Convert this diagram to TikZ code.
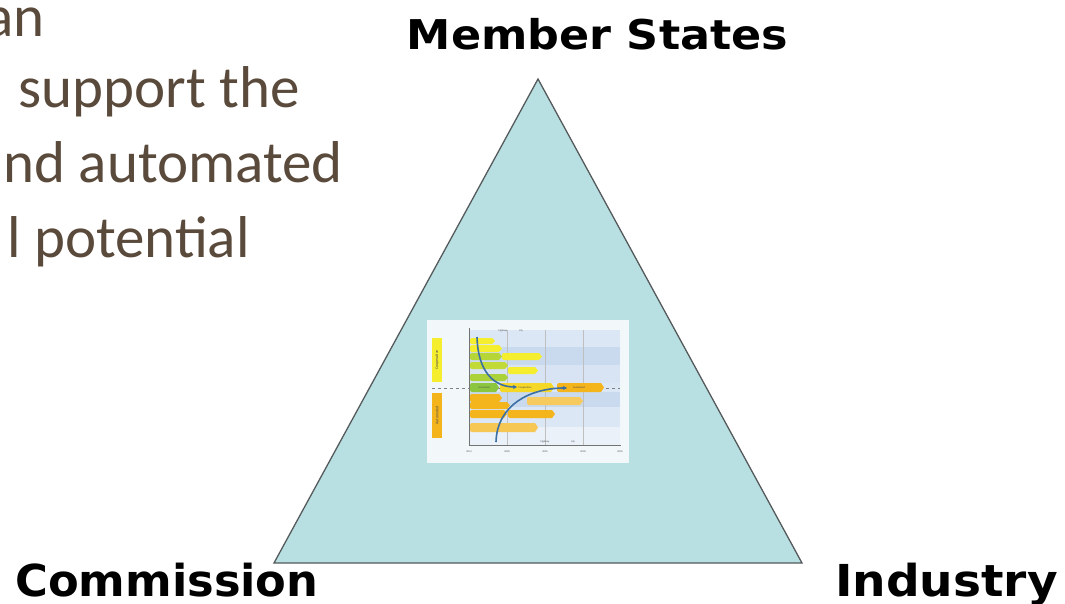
\documentclass[tikz,border=0pt]{standalone}
\usepackage{fontspec}
\setmainfont{Carlito}
\newfontfamily\lblfont{DejaVu Sans}
\usetikzlibrary{arrows.meta}
\definecolor{tritext}{HTML}{594A3B}
\definecolor{trifill}{HTML}{B8DFE1}
\definecolor{triline}{HTML}{555A5C}
\definecolor{cyel}{HTML}{F5EE2E}
\definecolor{corg}{HTML}{F4B41B}
\definecolor{cgrn}{HTML}{8CC63F}
\definecolor{cblue}{HTML}{3B6FA6}
\definecolor{bandA}{HTML}{DCE7F5}
\definecolor{bandB}{HTML}{C9DAEF}
\definecolor{frameC}{HTML}{F2F7FA}
\tikzset{
  bodytext/.style={text=tritext, inner sep=0pt, font=\fontsize{59}{70}\selectfont},
  roletext/.style={text=black, inner sep=0pt, font=\lblfont\bfseries\fontsize{44}{52}\selectfont},
  tinytext/.style={inner sep=0pt, font=\fontsize{2.6}{3}\selectfont, text=black!70},
  flow/.style={draw=cblue, line width=1.6pt, -{Stealth[length=4pt,width=4pt]}},
}
\newcommand\chartbar[5]{%
  \fill[#5] ({#2-3},#3) [rounded corners=2pt] -- (#1,#3) -- (#1,#4) [sharp corners] -- ({#2-3},#4) -- (#2,{(#3+#4)/2}) -- cycle;}
\begin{document}
\begin{tikzpicture}[x=1pt,y=-1pt]
\useasboundingbox (0,0) rectangle (1065,604);
\fill[white] (0,0) rectangle (1065,604);

% body text (cut off at left)
\node[bodytext, anchor=base east] (l1) at (45,37) {an};
\node[bodytext, anchor=base east] (l2) at (300,108) {support the};
\node[bodytext, anchor=base east] (l3) at (343,183) {nd automated};
\node[bodytext, anchor=base east] (l4) at (250,257) {l potential};

% triangle
\coordinate (apex) at (538,79);
\coordinate (bl) at (274,563);
\coordinate (br) at (802,563);
\filldraw[fill=trifill, draw=triline, line width=1.3pt, line join=miter] (apex) -- (bl) -- (br) -- cycle;

% role labels
\node[roletext, anchor=base] (ms) at (597.5,50) {\scalebox{1.085}[1]{\fontsize{41}{49}\selectfont Member States}};
\node[roletext, anchor=base west] (com) at (15,596) {\scalebox{1.017}[1]{Commission}};
\node[roletext, anchor=base east] (ind) at (1058,596) {\scalebox{1.07}[1]{Industry}};

% embedded chart
\fill[frameC] (427,320) rectangle (629,463);
\fill[bandA] (469,330) rectangle (620,347);
\fill[bandB] (469,347) rectangle (620,365);
\fill[bandA!80!bandB] (469,365) rectangle (620,383);
\fill[bandA] (469,383) rectangle (620,392);
\fill[bandB] (469,392) rectangle (620,407);
\fill[bandA] (469,407) rectangle (620,427);
\fill[bandA!60!white] (469,427) rectangle (620,445);
\foreach \gx in {507,545,583} \draw[black!25, line width=0.3pt] (\gx,330) -- (\gx,445);
\draw[black!55, line width=0.6pt] (469,328) -- (469,445) -- (621,445);
\draw[black!50, dashed, line width=0.5pt] (432,388) -- (620,388);
% side tags
\fill[cyel] (432,338) rectangle (442,382);
\fill[corg] (432,393) rectangle (442,438);
\node[tinytext, rotate=90, font=\fontsize{4}{5}\selectfont] (tcoop) at (437,360) {Cooperative};
\node[tinytext, rotate=90, font=\fontsize{4}{5}\selectfont] (tauto) at (437,415.5) {Automated};
% cooperative bars
\chartbar{470}{495}{338}{344}{cyel}
\chartbar{470}{502}{345}{352}{cyel}
\chartbar{470}{502}{353}{360}{cgrn!60!cyel}
\chartbar{502}{542}{353}{360}{cyel}
\chartbar{470}{508}{362}{369}{cgrn!50!cyel}
\chartbar{508}{538}{367}{374}{cyel}
\chartbar{470}{508}{374}{381}{cgrn!70!cyel}
% middle row
\chartbar{470}{499}{383}{392}{cgrn}
\chartbar{500}{554}{383}{392}{cyel!60!corg}
\chartbar{557}{604}{383}{392}{corg}
\node[tinytext] (mc1) at (484,387.5) {Connected};
\node[tinytext] (mc2) at (525,387.5) {Cooperative};
\node[tinytext] (mc3) at (579,387.5) {Automated};
% automated bars
\chartbar{470}{502}{394}{402}{corg}
\chartbar{470}{510}{402}{409}{corg}
\chartbar{527}{583}{397}{405}{corg!70!white}
\chartbar{470}{507}{410}{418}{corg}
\chartbar{508}{555}{410}{418}{corg}
\chartbar{470}{538}{423}{432}{corg!75!white}
% axis labels
\node[tinytext] (hw1) at (503,331) {highway};
\node[tinytext] (ct1) at (521,331) {city};
\node[tinytext] (hw2) at (545,442) {highway};
\node[tinytext] (ct2) at (573,442) {city};
\node[tinytext] (y1) at (469,452) {2014};
\node[tinytext] (y2) at (507,452) {2020};
\node[tinytext] (y3) at (545,452) {2025};
\node[tinytext] (y4) at (583,452) {2030};
\node[tinytext] (y5) at (620,452) {2035};
% flow arrows
\coordinate (fa1) at (477,337);
\coordinate (fa2) at (517,387);
\coordinate (fb1) at (496,442);
\coordinate (fb2) at (567,388);
\draw[flow] (fa1) .. controls (478,372) and (494,387) .. (fa2);
\draw[flow] (fb1) .. controls (497,405) and (530,388) .. (fb2);
\end{tikzpicture}
\end{document}
